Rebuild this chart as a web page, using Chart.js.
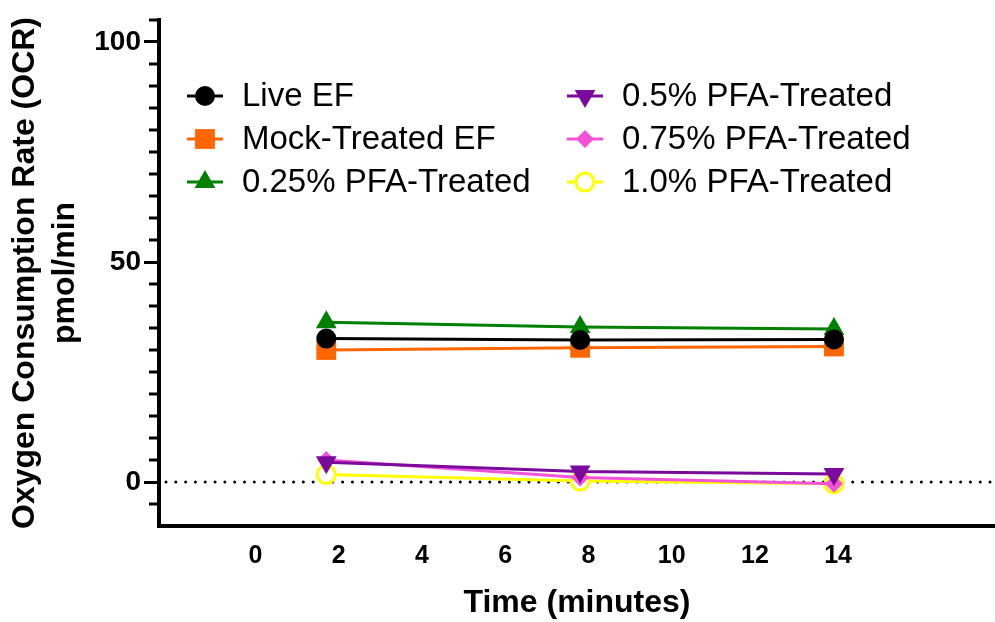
<!DOCTYPE html>
<html>
<head>
<meta charset="utf-8">
<script src="https://cdn.jsdelivr.net/npm/chart.js@4.4.0/dist/chart.umd.min.js"></script>
<style>
    html, body { margin: 0; padding: 0; background: #fff; }
    #wrap { width: 995px; height: 622px; }
</style>
</head>
<body>
<div id="wrap"><canvas id="ocrChart" width="995" height="622"></canvas></div>
<script>
const times = [1.7, 7.8, 13.9];
const liveEF = [32.6, 32.3, 32.4];
const mockEF = [30.0, 30.5, 30.8];
const pfa025 = [36.3, 35.2, 34.8];
const pfa05 = [4.5, 2.4, 1.8];
const pfa075 = [5.0, 1.0, -0.4];
const pfa10 = [1.7, 0.2, -0.4];

const xTicks = [0, 2, 4, 6, 8, 10, 12, 14];
const yTicks = [0, 50, 100];

Chart.defaults.font.family = "'Liberation Sans', Arial, sans-serif";
Chart.defaults.color = '#000';

function series(label, values, color, style) {
    return {
        label: label,
        data: values.map((v, i) => ({ x: times[i], y: v })),
        borderColor: color,
        borderWidth: 3,
        pointBackgroundColor: style.fill || color,
        pointBorderColor: color,
        pointBorderWidth: style.border || 0,
        pointStyle: style.shape,
        pointRadius: style.radius,
        pointRotation: style.rotation || 0,
        pointHoverRadius: style.radius,
        tension: 0,
        fill: false
    };
}

// dotted line at y = 0
const zeroLine = {
    id: 'zeroLine',
    beforeDatasetsDraw(chart) {
        const { ctx, chartArea, scales } = chart;
        const y0 = scales.y.getPixelForValue(0);
        ctx.save();
        ctx.strokeStyle = '#000';
        ctx.lineWidth = 3;
        ctx.lineCap = 'round';
        ctx.setLineDash([0.01, 9.8]);
        ctx.beginPath();
        ctx.moveTo(chartArea.left + 7, y0);
        ctx.lineTo(chartArea.right, y0);
        ctx.stroke();
        ctx.restore();
    }
};

// minor ticks on the y axis every 5 units
const minorTicks = {
    id: 'minorTicks',
    afterDraw(chart) {
        const { ctx, chartArea, scales } = chart;
        const y = scales.y;
        ctx.save();
        ctx.strokeStyle = '#000';
        ctx.lineWidth = 3;
        for (let v = y.min + 5; v <= y.max; v += 5) {
            if (yTicks.includes(v)) continue;
            const py = y.getPixelForValue(v);
            ctx.beginPath();
            ctx.moveTo(chartArea.left - 10, py);
            ctx.lineTo(chartArea.left, py);
            ctx.stroke();
        }
        ctx.restore();
    }
};

// two-column legend inside the plot
const columnLegend = {
    id: 'columnLegend',
    afterDraw(chart) {
        const ctx = chart.ctx;
        const colX = [187, 567];
        const rowY = [96, 139, 182];
        chart.data.datasets.forEach((ds, i) => {
            const x0 = colX[Math.floor(i / 3)];
            const y = rowY[i % 3];
            ctx.save();
            ctx.strokeStyle = ds.borderColor;
            ctx.lineWidth = 3;
            ctx.beginPath();
            ctx.moveTo(x0, y);
            ctx.lineTo(x0 + 36, y);
            ctx.stroke();
            ctx.fillStyle = ds.pointBackgroundColor;
            ctx.strokeStyle = ds.pointBorderColor;
            ctx.lineWidth = ds.pointBorderWidth;
            Chart.helpers.drawPoint(ctx, {
                pointStyle: ds.pointStyle,
                radius: ds.pointRadius,
                rotation: ds.pointRotation,
                borderWidth: ds.pointBorderWidth
            }, x0 + 18, y);
            ctx.fillStyle = '#000';
            ctx.font = "33px 'Liberation Sans', Arial, sans-serif";
            ctx.textBaseline = 'middle';
            ctx.fillText(ds.label, x0 + 55, y + 1);
            ctx.restore();
        });
    }
};

new Chart(document.getElementById('ocrChart'), {
    type: 'line',
    data: {
        datasets: [
            series('Live EF', liveEF, '#000000', { shape: 'circle', radius: 10 }),
            series('Mock-Treated EF', mockEF, '#FF6600', { shape: 'rect', radius: 14 }),
            series('0.25% PFA-Treated', pfa025, '#008000', { shape: 'triangle', radius: 12 }),
            series('0.5% PFA-Treated', pfa05, '#7A0A9C', { shape: 'triangle', radius: 12, rotation: 180 }),
            series('0.75% PFA-Treated', pfa075, '#F252D8', { shape: 'rectRot', radius: 9 }),
            series('1.0% PFA-Treated', pfa10, '#FFFF00', { shape: 'circle', radius: 9, fill: '#ffffff', border: 3 })
        ]
    },
    options: {
        responsive: false,
        animation: false,
        devicePixelRatio: 1,
        layout: { autoPadding: false, padding: { top: 20, right: 0, left: 0, bottom: 0 } },
        plugins: {
            legend: { display: false },
            tooltip: { enabled: false }
        },
        scales: {
            x: {
                type: 'linear',
                min: -2.32,
                max: 17.77,
                afterBuildTicks: s => { s.ticks = xTicks.map(v => ({ value: v })); },
                afterFit: s => {
                    s.height = 96;
                    s.paddingLeft = 0;
                    s.paddingRight = 0;
                },
                grid: { display: true, drawOnChartArea: false, drawTicks: false },
                border: { display: true, color: '#000', width: 4 },
                ticks: {
                    color: '#000',
                    font: { size: 25, weight: 'bold' },
                    padding: 15,
                    maxRotation: 0,
                    autoSkip: false
                },
                title: {
                    display: true,
                    text: 'Time (minutes)',
                    color: '#000',
                    font: { size: 32, weight: 'bold' },
                    padding: { top: 0, bottom: 0 }
                }
            },
            y: {
                type: 'linear',
                min: -10,
                max: 105,
                afterBuildTicks: s => { s.ticks = yTicks.map(v => ({ value: v })); },
                afterFit: s => {
                    s.width = 159;
                    s.paddingTop = 0;
                    s.paddingBottom = 0;
                },
                grid: {
                    display: true,
                    drawOnChartArea: false,
                    drawTicks: true,
                    tickLength: 15,
                    tickWidth: 3,
                    tickColor: '#000'
                },
                border: { display: true, color: '#000', width: 4 },
                ticks: {
                    color: '#000',
                    font: { size: 28, weight: 'bold' },
                    padding: 3
                },
                title: {
                    display: true,
                    text: ['Oxygen Consumption Rate (OCR)', 'pmol/min'],
                    color: '#000',
                    font: { size: 32, weight: 'bold', lineHeight: 1.25 },
                    padding: { top: 5, bottom: 0 }
                }
            }
        }
    },
    plugins: [zeroLine, minorTicks, columnLegend]
});
</script>
</body>
</html>
